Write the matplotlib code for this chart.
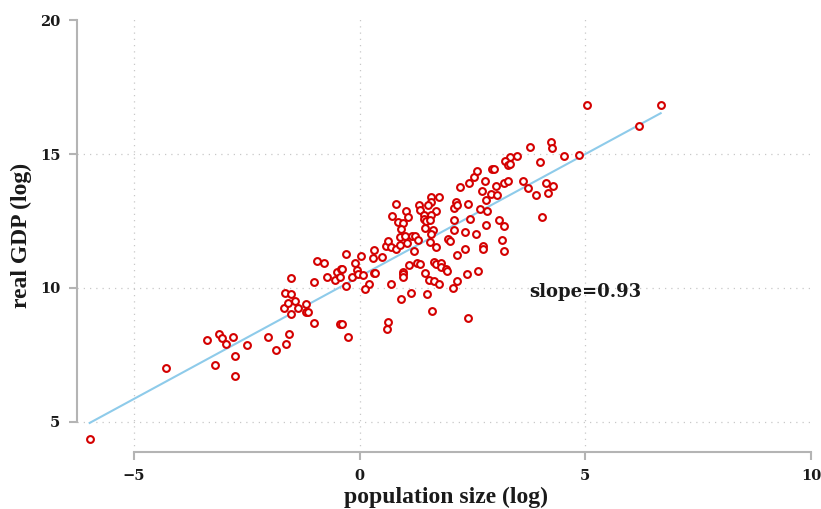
import matplotlib
matplotlib.use('Agg')
import matplotlib.pyplot as plt
import numpy as np

# population size (log) and real GDP (log)
pop_log = [
    -5.98, -4.29, -3.38, -3.21, -3.11, -3.05, -2.96, -2.81, -2.77, -2.75,
    -2.49, -2.03, -1.85, -1.62, -1.56, -1.68, -1.59, -1.42, -1.37, -1.52,
    -1.19, -1.18, -1.14, -1.00, -0.43, -0.38, -0.26, -1.51, -1.66, -1.52,
    -1.01, -0.95, -0.79, -0.72, -0.55, -0.50, -0.44, -0.42, -0.38, -0.31,
    -0.30, -0.11, -0.16, -0.06, -0.03, 0.07, 0.04, 0.21, 0.12, 0.31,
    0.30, 0.32, 0.35, 0.49, 0.58, 0.64, 0.69, 0.80, 0.89, 0.89,
    1.01, 1.06, 1.17, 1.22, 1.29, 1.63, 1.59, 1.56, 1.69, 1.20,
    0.69, 0.91, 0.97, 0.97, 0.97, 1.09, 1.28, 1.33, 1.14, 1.44,
    1.53, 1.64, 1.77, 1.64, 1.70, 1.80, 1.81, 1.92, 1.93, 1.50,
    1.60, 2.16, 2.06, 2.15, 2.33, 2.37, 2.41, 1.95, 2.01, 0.63,
    0.60, 0.80, 0.72, 0.85, 0.97, 0.91, 1.03, 1.08, 1.31, 1.34,
    1.43, 1.43, 1.47, 1.59, 1.59, 1.51, 1.75, 1.69, 1.59, 1.55,
    1.45, 2.23, 2.09, 2.14, 2.15, 2.09, 2.09, 2.41, 2.43, 2.54,
    2.60, 2.77, 2.71, 2.79, 2.91, 3.02, 3.05, 3.19, 3.28, 3.61,
    3.73, 3.91, 2.66, 2.82, 2.44, 2.33, 2.57, 2.80, 3.08, 3.21,
    3.15, 3.21, 2.74, 2.74, 2.62, 5.04, 6.67, 6.19, 4.86, 4.53,
    4.23, 4.26, 3.78, 3.99, 3.48, 3.34, 3.23, 3.29, 3.33, 2.94,
    2.98, 4.13, 4.28, 4.17, 4.05,
]
gdp_log = [
    4.35, 7.03, 8.06, 7.12, 8.29, 8.15, 7.91, 8.16, 7.45, 6.70,
    7.87, 8.17, 7.69, 7.92, 8.29, 9.24, 9.45, 9.51, 9.24, 9.04,
    9.40, 9.10, 9.10, 8.69, 8.65, 8.65, 8.18, 10.36, 9.80, 9.76,
    10.24, 11.01, 10.93, 10.42, 10.29, 10.59, 10.42, 10.70, 10.72, 11.26,
    10.06, 10.93, 10.42, 10.67, 10.52, 10.47, 11.18, 10.14, 9.95, 11.41,
    11.13, 10.56, 10.56, 11.17, 11.58, 11.75, 11.54, 11.44, 11.60, 11.91,
    11.94, 11.69, 11.94, 11.94, 11.79, 12.18, 12.01, 11.72, 11.52, 11.38,
    10.14, 9.59, 10.61, 10.51, 10.41, 10.87, 10.92, 10.88, 9.81, 10.55,
    10.29, 10.27, 10.16, 10.98, 10.88, 10.92, 10.80, 10.72, 10.65, 9.78,
    9.13, 10.26, 9.99, 11.22, 11.47, 10.53, 8.88, 11.83, 11.76, 8.74,
    8.46, 13.13, 12.70, 12.47, 12.44, 12.20, 12.88, 12.66, 13.10, 12.91,
    12.74, 12.56, 12.51, 13.41, 13.22, 13.11, 13.41, 12.88, 12.72, 12.54,
    12.23, 13.78, 13.00, 13.20, 13.10, 12.54, 12.18, 13.15, 13.91, 14.13,
    14.37, 14.00, 13.62, 13.27, 13.51, 13.81, 13.46, 13.90, 14.00, 13.99,
    13.73, 13.47, 12.95, 12.88, 12.56, 12.10, 12.01, 12.34, 12.54, 12.31,
    11.80, 11.39, 11.56, 11.46, 10.65, 16.84, 16.83, 16.03, 14.96, 14.94,
    15.44, 15.24, 15.28, 14.69, 14.91, 14.90, 14.73, 14.60, 14.63, 14.44,
    14.45, 13.91, 13.82, 13.54, 12.64,
]

x_ticks = [-5, 0, 5, 10]
y_ticks = [5, 10, 15, 20]
slope_label = 'slope=0.93'

red = '#d40000'
line_blue = '#8ecbea'
axis_gray = '#b4b4b4'
grid_gray = '#c8c8c8'
label_font = 'DejaVu Serif'
title_font = 'Liberation Serif'

x = np.array(pop_log)
y = np.array(gdp_log)
b, a = np.polyfit(x, y, 1)

fig = plt.figure(figsize=(8.21, 5.09), dpi=100)
ax = fig.add_axes([0.0938, 0.112, 0.8995, 0.8513])
ax.set_xlim(-6.26, 10.1)
ax.set_ylim(3.88, 20.05)

# dotted grid on inner ticks only
for gx in x_ticks[:-1]:
    ax.axvline(gx, color=grid_gray, lw=0.9, ls=(0, (1, 4)), zorder=0)
for gy in y_ticks[:-1]:
    ax.axhline(gy, color=grid_gray, lw=0.9, ls=(0, (1, 4)), zorder=0)

xs = np.linspace(x.min(), x.max(), 2)
ax.plot(xs, a + b * xs, color=line_blue, lw=1.5, zorder=2)
ax.scatter(x, y, s=24, facecolors='white', edgecolors=red, linewidths=1.5, zorder=3)

ax.text(3.75, 9.85, slope_label, fontsize=13, fontfamily=label_font,
        fontweight='bold', va='center', ha='left', color='#1a1a1a')

for side in ['top', 'right']:
    ax.spines[side].set_visible(False)
ax.spines['left'].set_bounds(5, 20)
ax.spines['bottom'].set_bounds(-5, 10)
for side in ['left', 'bottom']:
    ax.spines[side].set_color(axis_gray)
    ax.spines[side].set_linewidth(1.5)

ax.set_xticks(x_ticks)
ax.set_yticks(y_ticks)
ax.set_xticklabels(['\u22125', '0', '5', '10'])
ax.tick_params(length=6, width=1.5, color=axis_gray, pad=6)
for lab in ax.get_xticklabels() + ax.get_yticklabels():
    lab.set_fontfamily(label_font)
    lab.set_fontweight('bold')
    lab.set_fontsize(10.5)
    lab.set_color('#1a1a1a')

ax.set_xlabel('population size (log)', fontsize=17, fontfamily=title_font,
              fontweight='bold', color='#1a1a1a', labelpad=3)
ax.set_ylabel('real GDP (log)', fontsize=17, fontfamily=title_font,
              fontweight='bold', color='#1a1a1a', labelpad=6)

plt.savefig('out.png', dpi=100)
